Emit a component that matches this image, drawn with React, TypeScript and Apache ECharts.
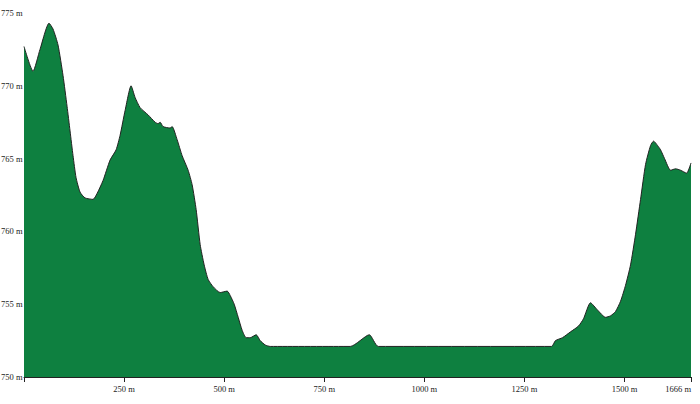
import React, { useEffect, useRef } from "react";
import * as echarts from "echarts";

const distances = [
  0, 22.5, 40, 62.5, 72.5, 85, 97.5, 107.5, 115, 122.5, 130, 140, 152.5, 172.5, 182.5, 197.5,
  215, 230, 240, 252.5, 267.5, 277.5, 290, 310, 327.5, 335, 340, 347.5, 365, 370, 382.5, 395,
  410, 420, 430, 440, 450, 460, 472.5, 490, 507.5, 515, 525, 535, 545, 555, 565, 580, 590,
  602.5, 615, 815, 862.5, 885, 1317.5, 1327.5, 1345, 1365, 1385, 1397.5, 1415, 1432.5, 1452.5,
  1465, 1477.5, 1490, 1502.5, 1515, 1527.5, 1540, 1552.5, 1565, 1572.5, 1582.5, 1590, 1600,
  1615, 1627.5, 1640, 1655, 1666,
];
const elevations = [
  772.7, 771.0, 772.5, 774.3, 773.9, 772.8, 770.7, 768.6, 766.9, 765.2, 763.7, 762.7, 762.3,
  762.2, 762.6, 763.5, 764.9, 765.6, 766.6, 768.3, 770.0, 769.2, 768.5, 768.0, 767.5, 767.4,
  767.5, 767.2, 767.1, 767.2, 766.3, 765.2, 764.2, 763.2, 761.5, 759.1, 757.7, 756.7, 756.2,
  755.8, 755.9, 755.6, 755.0, 754.1, 753.2, 752.7, 752.7, 752.9, 752.5, 752.2, 752.1, 752.1,
  752.9, 752.1, 752.1, 752.5, 752.7, 753.1, 753.5, 754.0, 755.1, 754.6, 754.1, 754.2, 754.5,
  755.2, 756.3, 757.7, 759.8, 762.2, 764.6, 765.9, 766.2, 765.9, 765.6, 765.0, 764.2, 764.3,
  764.2, 764.0, 764.7,
];
const totalDistance = 1666;
const yMin = 750;
const yMax = 775;

export default function App() {
  const ref = useRef<HTMLDivElement>(null);
  useEffect(() => {
    if (!ref.current) return;
    const chart = echarts.init(ref.current, undefined, { renderer: "svg" });
    const data = distances.map((d, i) => [d, elevations[i]]);
    chart.setOption({
      animation: false,
      grid: { left: 24, right: 9, top: 13, bottom: 27, outerBoundsMode: "none", containLabel: false },
      xAxis: {
        type: "value",
        min: 0,
        max: totalDistance,
        interval: 250,
        axisLine: { show: true, lineStyle: { color: "#222", width: 1 } },
        axisTick: { show: true, length: 5, lineStyle: { color: "#222" } },
        splitLine: { show: false },
        axisLabel: {
          margin: 7,
          color: "#222",
          fontFamily: "Liberation Serif",
          fontSize: 8.5,
          alignMaxLabel: "right",
          formatter: (v: number) => (v === 0 ? "" : v + " m"),
        },
      },
      yAxis: {
        type: "value",
        min: yMin,
        max: yMax,
        interval: 5,
        axisLine: { show: false },
        axisTick: { show: false },
        splitLine: { show: false },
        axisLabel: {
          margin: 1.5,
          color: "#222",
          fontFamily: "Liberation Serif",
          fontSize: 8.5,
          formatter: (v: number) => v + " m",
        },
      },
      series: [
        {
          type: "line",
          data,
          showSymbol: false,
          symbol: "none",
          smooth: 0.2,
          lineStyle: { color: "#222", width: 1 },
          areaStyle: { color: "#0e8040", opacity: 1 },
        },
      ],
    });
    return () => chart.dispose();
  }, []);
  return (
    <div
      ref={ref}
      style={{ position: "absolute", left: 0, top: 0, width: 700, height: 404 }}
    />
  );
}
